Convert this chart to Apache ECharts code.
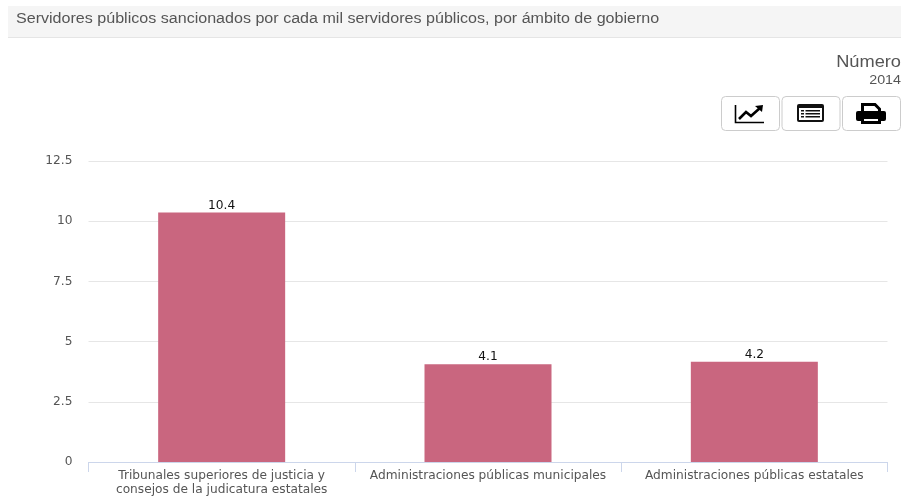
<!DOCTYPE html>
<html>
<head>
<meta charset="utf-8">
<style>html,body{margin:0;padding:0;background:#fff}#c{width:901px;height:496px}</style>
<script src="https://cdn.jsdelivr.net/npm/echarts@6/dist/echarts.min.js"></script>
</head>
<body>
<div id="c"></div>
<script>
var categories = ['Tribunales superiores de justicia y\nconsejos de la judicatura estatales', 'Administraciones públicas municipales', 'Administraciones públicas estatales'];
var values = [10.36, 4.06, 4.16];
var titleText = 'Servidores públicos sancionados por cada mil servidores públicos, por ámbito de gobierno';
var unitText = 'Número';
var yearText = '2014';
var chart = echarts.init(document.getElementById('c'), null, {renderer: 'canvas'});
var btn = function (x) {
  return {type: 'rect', shape: {x: x, y: 96.5, width: 58, height: 34, r: 4}, style: {fill: '#fff', stroke: '#ccc', lineWidth: 1}};
};
chart.setOption({
  animation: false,
  grid: {left: 88.5, right: 13.5, top: 161, bottom: 34, containLabel: false, outerBoundsMode: 'none'},
  xAxis: {
    type: 'category', data: categories,
    axisLine: {lineStyle: {color: '#ccd6eb', width: 1}},
    axisTick: {show: true, length: 10, alignWithLabel: false, lineStyle: {color: '#ccd6eb'}},
    axisLabel: {interval: 0, color: '#555', fontFamily: 'DejaVu Sans', fontSize: 12.2, lineHeight: 14, margin: 7}
  },
  yAxis: {
    type: 'value', min: 0, max: 12.5, interval: 2.5,
    axisLine: {show: false}, axisTick: {show: false},
    splitLine: {lineStyle: {color: '#e6e6e6', width: 1}},
    axisLabel: {color: '#555', fontFamily: 'DejaVu Sans', fontSize: 12.2, margin: 16, padding: [0, 0, 2, 0], formatter: function (v) { return String(v); }}
  },
  series: [{
    type: 'bar', data: values, barWidth: 127,
    itemStyle: {color: '#c9667f'},
    label: {show: true, position: 'top', distance: 1, color: '#111', fontFamily: 'DejaVu Sans', fontSize: 12.2, formatter: function (p) { return p.value.toFixed(1); }}
  }],
  graphic: [
    {type: 'rect', shape: {x: 8, y: 6, width: 893, height: 31}, style: {fill: '#f5f5f5'}},
    {type: 'rect', shape: {x: 8, y: 37, width: 893, height: 1}, style: {fill: '#e5e5e5'}},
    {type: 'text', x: 16, y: 12, scaleX: 1.148, style: {text: titleText, fill: '#555', font: '14px "Liberation Sans"'}},
    {type: 'text', x: 901, y: 55, scaleX: 1.14, style: {text: unitText, fill: '#555', font: '16px "Liberation Sans"', textAlign: 'right'}},
    {type: 'text', x: 901, y: 75, scaleX: 1.19, style: {text: yearText, fill: '#555', font: '12px "Liberation Sans"', textAlign: 'right'}},
    btn(721.5), btn(782), btn(842.5),
    // line-chart icon
    {type: 'polyline', shape: {points: [[735.5, 105], [735.5, 122.5], [764, 122.5]]}, style: {stroke: '#000', fill: null, lineWidth: 1.6}},
    {type: 'polyline', shape: {points: [[739, 119], [746, 112], [751, 116], [760, 108]]}, style: {stroke: '#000', fill: null, lineWidth: 2.6}},
    {type: 'polygon', shape: {points: [[755, 106], [763, 105], [762, 112]]}, style: {fill: '#000'}},
    // table icon
    {type: 'rect', shape: {x: 797, y: 104, width: 27, height: 18, r: 2}, style: {fill: '#111'}},
    {type: 'rect', shape: {x: 799, y: 108, width: 23, height: 12}, style: {fill: '#fff'}},
    {type: 'rect', shape: {x: 801, y: 110, width: 3, height: 1.5}, style: {fill: '#111'}},
    {type: 'rect', shape: {x: 801, y: 113, width: 3, height: 1.5}, style: {fill: '#111'}},
    {type: 'rect', shape: {x: 801, y: 116, width: 3, height: 1.5}, style: {fill: '#111'}},
    {type: 'rect', shape: {x: 805.5, y: 110, width: 14.5, height: 1.5}, style: {fill: '#111'}},
    {type: 'rect', shape: {x: 805.5, y: 113, width: 14.5, height: 1.5}, style: {fill: '#111'}},
    {type: 'rect', shape: {x: 805.5, y: 116, width: 14.5, height: 1.5}, style: {fill: '#111'}},
    // printer icon
    {type: 'polygon', shape: {points: [[862.5, 104.5], [875, 104.5], [879.5, 109], [879.5, 114], [862.5, 114]]}, style: {fill: '#fff', stroke: '#000', lineWidth: 3}},
    {type: 'rect', shape: {x: 856, y: 111, width: 30, height: 10, r: 2}, style: {fill: '#000'}},
    {type: 'rect', shape: {x: 862.5, y: 117.5, width: 17, height: 5}, style: {fill: '#fff', stroke: '#000', lineWidth: 3}}
  ]
});
</script>
</body>
</html>
